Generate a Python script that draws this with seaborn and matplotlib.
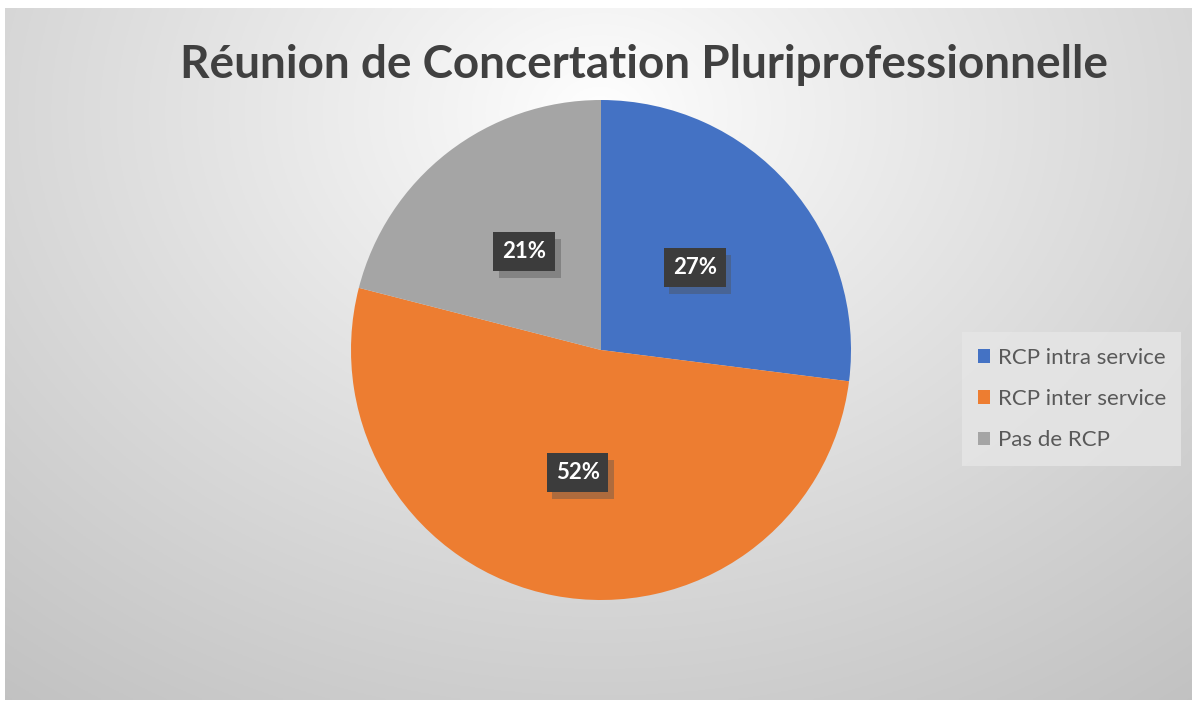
import matplotlib
matplotlib.use('Agg')
import matplotlib.pyplot as plt
import matplotlib.patheffects as pe
import numpy as np
import seaborn as sns

# Data
labels = ['RCP intra service', 'RCP inter service', 'Pas de RCP']
values = [27, 52, 21]
colors = ['#4472C4', '#ED7D31', '#A5A5A5']
title = 'Réunion de Concertation Pluriprofessionnelle'

sns.set_style('white')
plt.rcParams['font.family'] = ['Lato', 'DejaVu Sans']

fig = plt.figure(figsize=(11.96, 7.02), dpi=100)
fig.patch.set_facecolor('white')

# Gradient background (chart area)
bg = fig.add_axes([5 / 1196, 2 / 702, 1187 / 1196, 692 / 702])
h, w = 300, 500
yy, xx = np.mgrid[0:h, 0:w]
cx, cy = 0.5 * w, 0.15 * h
d = np.sqrt(((xx - cx) / w) ** 2 + ((yy - cy) / h * 0.75) ** 2)
d = d / d.max()
shade = 1.0 - 0.24 * np.clip(d, 0, 1) ** 0.9
bg.imshow(np.dstack([shade] * 3), aspect='auto', extent=[0, 1, 0, 1])
bg.set_axis_off()

# Pie
ax = fig.add_axes([351 / 1196, 1 - 600 / 702, 500 / 1196, 500 / 702])
wedges, texts, autotexts = ax.pie(
    values, colors=colors, startangle=90, counterclock=False,
    autopct='%1.0f%%', pctdistance=0.5,
    wedgeprops=dict(linewidth=0),
    textprops=dict(color='white', fontsize=16, fontweight='bold'))
ax.set_xlim(-1, 1)
ax.set_ylim(-1, 1)
ax.set_aspect('equal')
ax.set_axis_off()

for t in autotexts:
    t.set_bbox(dict(boxstyle='square,pad=0.4', facecolor='#3c3c3c',
                    edgecolor='none'))
    t.get_bbox_patch().set_path_effects(
        [pe.withSimplePatchShadow(offset=(4, -5), shadow_rgbFace='#505050', alpha=0.4),
         pe.Normal()])

fig.text(0.5385, 1 - 65 / 702, title, ha='center', va='center',
         fontsize=33, fontweight='bold', color='#404040')

leg = fig.legend(wedges, labels, loc='center left',
                 bbox_to_anchor=(962 / 1196, 1 - 399 / 702),
                 frameon=True, fontsize=16, labelcolor='#595959',
                 handlelength=0.55, handleheight=0.55, handletextpad=0.35,
                 labelspacing=0.95, borderpad=0.7, borderaxespad=0,
                 fancybox=False)
leg.get_frame().set_facecolor('#e6e6e6')
leg.get_frame().set_edgecolor('none')
leg.get_frame().set_alpha(0.8)

fig.savefig('out.png', dpi=100)
